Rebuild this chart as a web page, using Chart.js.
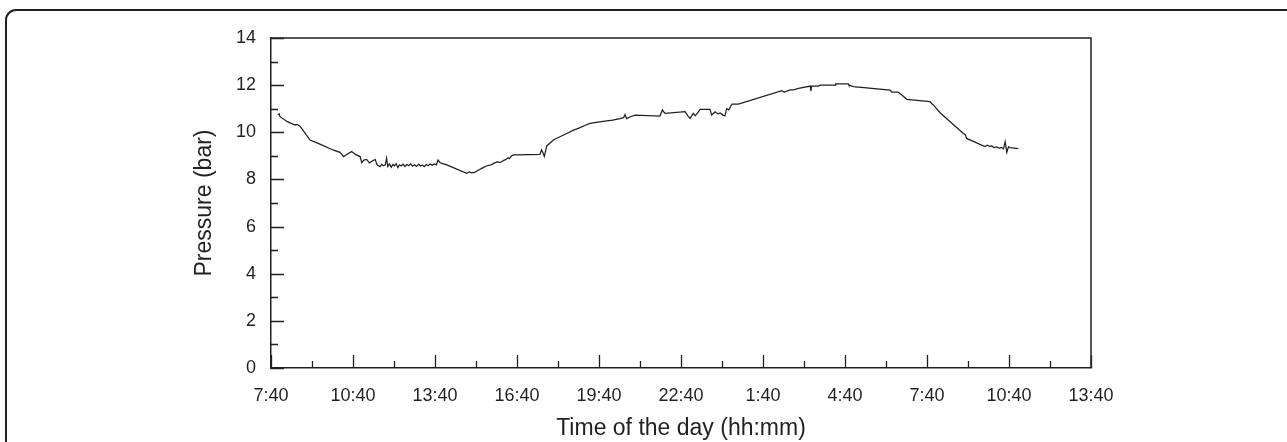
<!DOCTYPE html>
<html>
<head>
<meta charset="utf-8">
<title>Pressure over the day</title>
<script src="https://cdn.jsdelivr.net/npm/chart.js@4.4.0/dist/chart.umd.min.js"></script>
<style>
  html, body { margin: 0; padding: 0; background: #fff; overflow: hidden; }
  #wrap { position: relative; width: 1287px; height: 442px; }
  #frame {
    position: absolute; left: 5px; top: 9px; width: 1292px; height: 500px;
    border: 2px solid #231f20; border-radius: 11px; pointer-events: none;
  }
</style>
</head>
<body>
<div id="wrap">
  <canvas id="myChart" width="1287" height="442"></canvas>
  <div id="frame"></div>
</div>
<script>
// hours after 7:40 (x axis runs 7:40 -> 13:40 next day)
var hours = [
  0.25, 0.30, 0.33, 0.60, 0.88, 0.95, 1.05, 1.12, 1.43, 1.79, 2.27, 2.52, 2.60, 2.65, 2.80, 2.95,
  3.10, 3.26, 3.32, 3.40, 3.50, 3.60, 3.68, 3.81, 3.88, 3.99, 4.05, 4.12, 4.18, 4.23, 4.27, 4.33,
  4.40, 4.46, 4.52, 4.58, 4.64, 4.70, 4.76, 4.83, 4.90, 4.97, 5.04, 5.11, 5.18, 5.25, 5.32, 5.40,
  5.47, 5.54, 5.61, 5.68, 5.75, 5.82, 5.90, 5.98, 6.05, 6.11, 6.18, 6.25, 6.43, 7.16, 7.25, 7.34,
  7.45, 7.60, 7.76, 7.90, 8.05, 8.15, 8.26, 8.40, 8.50, 8.60, 8.67, 8.72, 8.80, 8.87, 9.00, 9.84,
  9.90, 9.96, 10.00, 10.09, 10.33, 10.55, 10.82, 11.05, 11.31, 11.50, 11.67, 11.90, 12.28, 12.50, 12.77, 12.90,
  12.95, 13.01, 13.15, 13.32, 14.23, 14.32, 14.38, 14.42, 15.15, 15.25, 15.33, 15.45, 15.52, 15.58, 15.70, 16.06,
  16.12, 16.25, 16.35, 16.43, 16.55, 16.61, 16.67, 16.75, 16.86, 17.10, 18.69, 18.78, 18.87, 19.00, 19.12, 19.30,
  19.73, 19.75, 19.78, 20.03, 20.09, 20.64, 20.66, 21.12, 21.14, 21.31, 22.65, 22.71, 22.95, 23.02, 23.08, 23.26,
  24.11, 24.17, 24.23, 24.35, 24.48, 25.33, 25.40, 25.45, 26.12, 26.20, 26.30, 26.37, 26.45, 26.55, 26.65, 26.72,
  26.80, 26.86, 26.92, 26.98, 27.04, 27.34
];
// pressure in bar
var pressure = [
  10.73, 10.78, 10.66, 10.45, 10.31, 10.33, 10.27, 10.17, 9.67, 9.50, 9.25, 9.15, 9.05, 8.97, 9.08, 9.18,
  9.05, 8.97, 8.71, 8.82, 8.85, 8.70, 8.76, 8.85, 8.62, 8.54, 8.64, 8.58, 8.62, 8.90, 8.55, 8.66,
  8.52, 8.64, 8.58, 8.67, 8.50, 8.62, 8.57, 8.65, 8.55, 8.63, 8.58, 8.66, 8.56, 8.62, 8.55, 8.64,
  8.57, 8.61, 8.54, 8.63, 8.58, 8.65, 8.60, 8.66, 8.62, 8.82, 8.72, 8.68, 8.62, 8.26, 8.32, 8.28,
  8.30, 8.40, 8.50, 8.58, 8.62, 8.68, 8.74, 8.72, 8.80, 8.85, 8.92, 8.88, 9.00, 9.04, 9.04, 9.06,
  9.25, 9.10, 8.98, 9.42, 9.67, 9.80, 9.95, 10.08, 10.20, 10.30, 10.38, 10.42, 10.48, 10.52, 10.58, 10.62,
  10.75, 10.58, 10.66, 10.73, 10.69, 10.95, 10.85, 10.80, 10.88, 10.70, 10.59, 10.80, 10.70, 10.78, 10.97, 10.97,
  10.73, 10.87, 10.78, 10.82, 10.72, 10.70, 11.00, 10.95, 11.20, 11.20, 11.77, 11.70, 11.75, 11.80, 11.80, 11.86,
  11.96, 11.75, 11.96, 11.96, 12.00, 12.00, 12.05, 12.05, 12.00, 11.94, 11.79, 11.70, 11.70, 11.62, 11.58, 11.40,
  11.30, 11.22, 11.16, 11.00, 10.83, 9.95, 9.90, 9.74, 9.39, 9.45, 9.40, 9.42, 9.35, 9.38, 9.32, 9.36,
  9.30, 9.60, 9.15, 9.38, 9.35, 9.31
];
// labels every 3 hours
var timeLabels = ["7:40", "10:40", "13:40", "16:40", "19:40", "22:40", "1:40", "4:40", "7:40", "10:40", "13:40"];

var ink = "#231f20";
var fontFamily = "'Liberation Sans', Arial, Helvetica, sans-serif";

function isMajor(v, step) {
  return Math.abs(v / step - Math.round(v / step)) < 1e-6;
}

//Draw top/right frame and inward tick marks
var innerTicks = {
  id: 'innerTicks',
  afterDraw: function (chart) {
    var ctx = chart.ctx;
    var area = chart.chartArea;
    var xs = chart.scales.x;
    var ys = chart.scales.y;
    ctx.save();
    ctx.strokeStyle = ink;
    ctx.lineWidth = 1.5;
    ctx.beginPath();
    ctx.moveTo(area.left, area.top);
    ctx.lineTo(area.right, area.top);
    ctx.lineTo(area.right, area.bottom);
    ctx.stroke();

    ctx.lineWidth = 1.3;
    ctx.beginPath();
    xs.ticks.forEach(function (t) {
      var px = Math.round(xs.getPixelForValue(t.value)) + 0.5;
      var len = isMajor(t.value, 3) ? 13 : 7;
      ctx.moveTo(px, area.bottom);
      ctx.lineTo(px, area.bottom - len);
    });
    ys.ticks.forEach(function (t) {
      var py = Math.round(ys.getPixelForValue(t.value)) + 0.5;
      var len = isMajor(t.value, 2) ? 13 : 7;
      ctx.moveTo(area.left, py);
      ctx.lineTo(area.left + len, py);
    });
    ctx.stroke();
    ctx.restore();
  }
};

var points = hours.map(function (h, i) {
  return { x: h, y: pressure[i] };
});

var ctx = document.getElementById('myChart').getContext('2d');
var myChart = new Chart(ctx, {
  type: 'line',
  data: {
    datasets: [{
      label: 'Pressure',
      data: points,
      borderColor: ink,
      borderWidth: 1.25,
      pointRadius: 0,
      tension: 0,
      fill: false
    }]
  },
  options: {
    responsive: false,
    animation: false,
    devicePixelRatio: 1,
    layout: { padding: { left: 191, right: 196, top: 38, bottom: 0 } },
    plugins: {
      legend: { display: false },
      tooltip: { enabled: false }
    },
    scales: {
      x: {
        type: 'linear',
        min: 0,
        max: 30,
        afterFit: function (scale) { scale.height = 74; },
        grid: { display: false, drawTicks: false },
        border: { display: true, color: ink, width: 1.5 },
        ticks: {
          stepSize: 1.5,
          autoSkip: false,
          maxRotation: 0,
          padding: 17,
          color: ink,
          font: { family: fontFamily, size: 18 },
          callback: function (v) {
            return isMajor(v, 3) ? timeLabels[Math.round(v / 3)] : '';
          }
        },
        title: {
          display: true,
          text: 'Time of the day (hh:mm)',
          color: ink,
          font: { family: fontFamily, size: 23 },
          padding: { top: 0, bottom: 0 }
        }
      },
      y: {
        min: 0,
        max: 14,
        afterFit: function (scale) { scale.width = 80; },
        grid: { display: false, drawTicks: false },
        border: { display: true, color: ink, width: 1.5 },
        ticks: {
          stepSize: 1,
          autoSkip: false,
          padding: 15,
          color: ink,
          font: { family: fontFamily, size: 18 },
          callback: function (v) {
            return isMajor(v, 2) ? v : '';
          }
        },
        title: {
          display: true,
          text: 'Pressure (bar)',
          color: ink,
          font: { family: fontFamily, size: 23 },
          padding: { top: 0, bottom: 0 }
        }
      }
    }
  },
  plugins: [innerTicks]
});
</script>
</body>
</html>
